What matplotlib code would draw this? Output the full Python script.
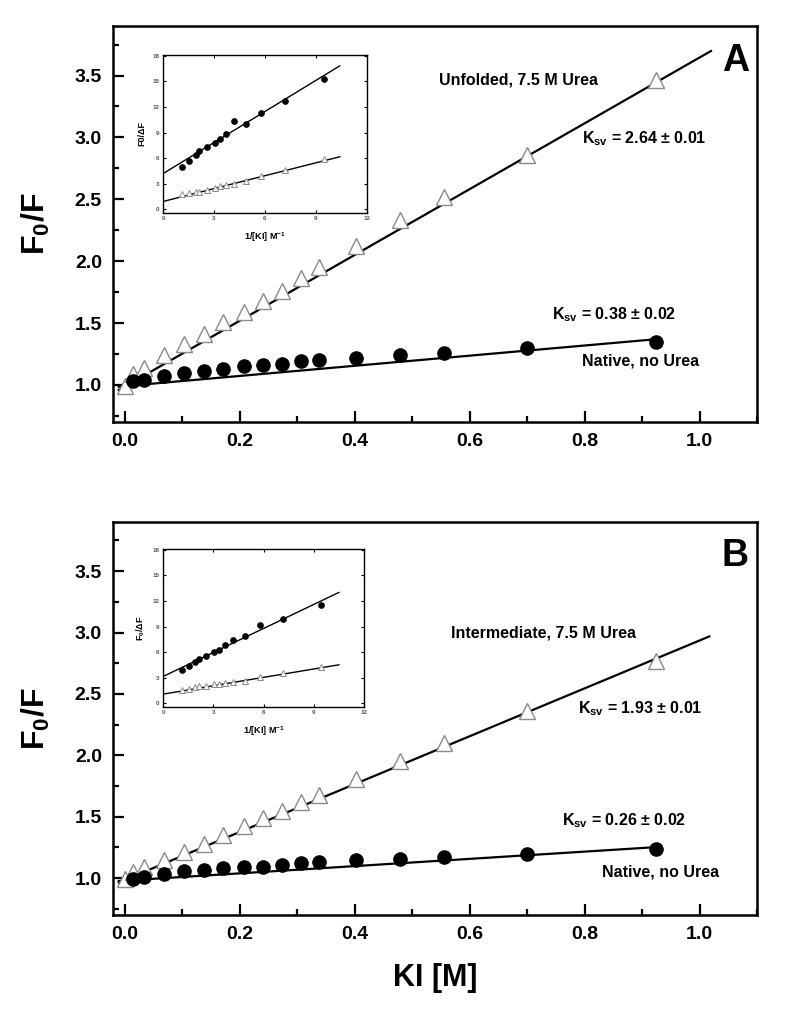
import matplotlib
matplotlib.use('Agg')
import matplotlib.pyplot as plt
import numpy as np
from matplotlib.ticker import MultipleLocator

plt.rcParams['font.family'] = ['Liberation Sans', 'DejaVu Sans']
plt.rcParams['font.weight'] = 'bold'
plt.rcParams['mathtext.fontset'] = 'custom'
plt.rcParams['mathtext.rm'] = 'Liberation Sans:bold'
plt.rcParams['mathtext.bf'] = 'Liberation Sans:bold'
plt.rcParams['mathtext.it'] = 'Liberation Sans:bold'
plt.rcParams['mathtext.default'] = 'bf'

# ---------------- data ----------------
ki_tri = [0.0, 0.015, 0.034, 0.068, 0.104, 0.138, 0.172, 0.207, 0.241, 0.274,
          0.307, 0.338, 0.402, 0.479, 0.555, 0.700, 0.925]
ki_circ = ki_tri[1:]

A_native = [1.03, 1.04, 1.07, 1.095, 1.115, 1.13, 1.15, 1.157, 1.17, 1.195,
            1.20, 1.22, 1.24, 1.257, 1.297, 1.343]
A_unfolded = [0.99, 1.09, 1.14, 1.24, 1.33, 1.41, 1.51, 1.59, 1.68, 1.76,
              1.86, 1.95, 2.12, 2.33, 2.52, 2.86, 3.46]
B_native = [0.995, 1.01, 1.035, 1.055, 1.07, 1.08, 1.09, 1.09, 1.11, 1.12,
            1.13, 1.145, 1.16, 1.17, 1.20, 1.24]
B_inter = [0.995, 1.05, 1.09, 1.145, 1.21, 1.28, 1.355, 1.425, 1.49, 1.545,
           1.62, 1.68, 1.81, 1.95, 2.10, 2.36, 2.765]

# fit lines: (intercept, slope, x_start, x_end)
A_fit_unf = (0.985, 2.66, -0.01, 1.02)
A_fit_nat = (0.99, 0.41, -0.01, 0.925)
B_fit_int = (0.985, 1.95, -0.01, 1.017)
B_fit_nat = (0.98, 0.295, -0.01, 0.925)

# insets (1/[KI])
inv_ki = [1.14, 1.55, 1.92, 2.14, 2.58, 3.03, 3.33, 3.73, 4.2, 4.9, 5.77, 7.18, 9.45]
iA_native = [4.99, 5.65, 6.35, 6.8, 7.28, 7.79, 8.26, 8.77, 10.4, 10.0, 11.3, 12.74, 15.27]
iA_unf = [1.75, 1.87, 2.03, 2.06, 2.26, 2.45, 2.73, 2.84, 3.0, 3.31, 3.9, 4.56, 5.84]
iB_native = [3.91, 4.38, 4.89, 5.2, 5.48, 5.99, 6.26, 6.85, 7.43, 7.94, 9.12, 9.9, 11.54]
iB_int = [1.56, 1.68, 1.84, 1.96, 2.07, 2.23, 2.23, 2.35, 2.43, 2.62, 3.13, 3.6, 4.19]
iA_fit_nat = (4.17, 1.217, 0.0, 10.4)
iA_fit_unf = (0.9, 0.505, 0.0, 10.4)
iB_fit_nat = (3.13, 0.94, 0.0, 10.5)
iB_fit_int = (1.06, 0.328, 0.0, 10.5)

W, H = 786, 1023
fig = plt.figure(figsize=(W / 100, H / 100), dpi=100)


def px_axes(l, t, r, b):
    return fig.add_axes([l / W, 1 - b / H, (r - l) / W, (b - t) / H])


def fitline(ax, p, lw):
    a, s, x0, x1 = p
    xs = np.array([x0, x1])
    ax.plot(xs, a + s * xs, color='black', lw=lw, zorder=2)


def main_panel(ax, circ, tri, fit_tri, fit_circ, letter, texts):
    fitline(ax, fit_tri, 1.6)
    fitline(ax, fit_circ, 1.6)
    ax.plot(ki_tri, tri, linestyle='none', marker='^', ms=11, mfc='white',
            mec='#8a8a8a', mew=1.0, zorder=3)
    ax.plot(ki_circ, circ, linestyle='none', marker='o', ms=9.5, mfc='black',
            mec='black', zorder=4)
    ax.set_xlim(-0.02, 1.1)
    ax.set_ylim(0.7, 3.9)
    ax.xaxis.set_minor_locator(MultipleLocator(0.1))
    ax.set_yticks([1.0, 1.5, 2.0, 2.5, 3.0, 3.5])
    ax.set_yticks([0.75, 1.25, 1.75, 2.25, 2.75, 3.25, 3.75], minor=True)
    ax.set_xticks([0.0, 0.2, 0.4, 0.6, 0.8, 1.0])
    ax.set_xticklabels(['0.0', '0.2', '0.4', '0.6', '0.8', '1.0'])
    ax.set_yticklabels(['1.0', '1.5', '2.0', '2.5', '3.0', '3.5'])
    ax.tick_params(which='major', direction='in', length=8, width=1.6,
                   labelsize=14, pad=8)
    ax.tick_params(which='minor', direction='in', length=4.5, width=1.6)
    ax.tick_params(top=False, right=False, which='both')
    for s in ax.spines.values():
        s.set_linewidth(1.8)
    ax.set_ylabel('F$_0$/F', fontsize=23, fontweight='bold')
    ax.yaxis.set_label_coords(-0.094, 0.5)
    ax.text(1.062, 3.62, letter, fontsize=27, fontweight='bold',
            ha='center', va='center')
    for (x, y, s) in texts:
        ax.text(x, y, s, fontsize=11.5, fontweight='bold', ha='left', va='center')


def inset(ax, circ, tri, fit_c, fit_t, ylabel):
    fitline(ax, fit_c, 1.0)
    fitline(ax, fit_t, 1.0)
    ax.plot(inv_ki, tri, linestyle='none', marker='^', ms=4.5, mfc='white',
            mec='#8a8a8a', mew=0.7, zorder=3)
    ax.plot(inv_ki, circ, linestyle='none', marker='o', ms=3.8, mfc='black',
            mec='black', zorder=4)
    ax.set_xlim(0, 12)
    ax.set_ylim(-0.45, 18.1)
    ax.set_xticks([0, 3, 6, 9, 12])
    ax.set_yticks([0, 3, 6, 9, 12, 15, 18])
    ax.tick_params(direction='in', length=2.5, width=0.8, labelsize=4.5,
                   pad=2.5, top=True, right=True, labelcolor='#555555')
    for s in ax.spines.values():
        s.set_linewidth(1.0)
    ax.set_xlabel('1/[KI] M$^{-1}$', fontsize=6.5, fontweight='bold', labelpad=6)
    ax.set_ylabel(ylabel, fontsize=6.5, fontweight='bold', labelpad=4)


axA = px_axes(113, 26, 757, 422)
main_panel(axA, A_native, A_unfolded, A_fit_unf, A_fit_nat, 'A',
           [(0.547, 3.46, 'Unfolded, 7.5 M Urea'),
            (0.795, 2.99, 'K$_{sv}$ = 2.64 ± 0.01'),
            (0.743, 1.57, 'K$_{sv}$ = 0.38 ± 0.02'),
            (0.795, 1.19, 'Native, no Urea')])

axB = px_axes(113, 522, 757, 915)
main_panel(axB, B_native, B_inter, B_fit_int, B_fit_nat, 'B',
           [(0.568, 3.00, 'Intermediate, 7.5 M Urea'),
            (0.788, 2.38, 'K$_{sv}$ = 1.93 ± 0.01'),
            (0.760, 1.47, 'K$_{sv}$ = 0.26 ± 0.02'),
            (0.830, 1.05, 'Native, no Urea')])
axB.set_xlabel('KI [M]', fontsize=22, fontweight='bold', labelpad=14)

insA = px_axes(163, 55, 367, 213)
inset(insA, iA_native, iA_unf, iA_fit_nat, iA_fit_unf, 'F0/ΔF')
insB = px_axes(163, 549, 364, 707)
inset(insB, iB_native, iB_int, iB_fit_nat, iB_fit_int, 'F$_0$/ΔF')

fig.savefig('out.png', dpi=100)
